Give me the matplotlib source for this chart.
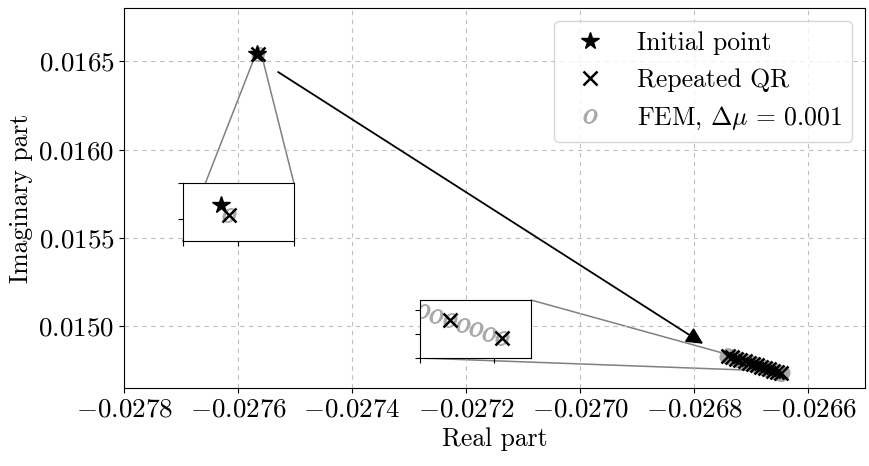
import matplotlib
matplotlib.use("Agg")
import matplotlib.pyplot as plt
from matplotlib.patches import ConnectionPatch, Rectangle

plt.rcParams['font.family'] = 'serif'
plt.rcParams['font.serif'] = ['cmr10']
plt.rcParams['mathtext.fontset'] = 'cm'
plt.rcParams['axes.formatter.use_mathtext'] = True
plt.rcParams['font.size'] = 18.5
plt.rcParams['xtick.labelsize'] = 19.5
plt.rcParams['ytick.labelsize'] = 19.5

# initial guess
init_re = [-0.0275666]
init_im = [0.0165439]

# repeated QR eigenvalues
qr_re = [-0.0275658,
         -0.0267399, -0.0267328, -0.0267257, -0.0267186, -0.0267115, -0.0267044, -0.0266973,
         -0.0266902, -0.0266831, -0.0266760, -0.0266689, -0.0266618, -0.0266547, -0.0266476]
qr_im = [0.0165412,
         0.0148332, 0.0148257, 0.0148182, 0.0148107, 0.0148032, 0.0147957, 0.0147882,
         0.0147807, 0.0147732, 0.0147657, 0.0147582, 0.0147507, 0.0147432, 0.0147357]

# FEM eigenvalues, dmu = 0.001
fem_re = [-0.0275658,
          -0.0267435, -0.0267417, -0.0267399, -0.0267381, -0.0267364, -0.0267346, -0.0267328,
          -0.0267310, -0.0267293, -0.0267275, -0.0267257, -0.0267239, -0.0267222, -0.0267204,
          -0.0267186, -0.0267168, -0.0267151, -0.0267133, -0.0267115, -0.0267097, -0.0267080,
          -0.0267062, -0.0267044, -0.0267026, -0.0267009, -0.0266991, -0.0266973, -0.0266955,
          -0.0266938, -0.0266920, -0.0266902, -0.0266884, -0.0266867, -0.0266849, -0.0266831,
          -0.0266813, -0.0266796, -0.0266778, -0.0266760, -0.0266742, -0.0266725, -0.0266707,
          -0.0266689, -0.0266636, -0.0266618, -0.0266600, -0.0266583, -0.0266565, -0.0266547,
          -0.0266529, -0.0266512, -0.0266494, -0.0266476, -0.0266458, -0.0266441]
fem_im = [0.0165412,
          0.0148370, 0.0148351, 0.0148332, 0.0148313, 0.0148295, 0.0148276, 0.0148257,
          0.0148238, 0.0148220, 0.0148201, 0.0148182, 0.0148163, 0.0148145, 0.0148126,
          0.0148107, 0.0148088, 0.0148070, 0.0148051, 0.0148032, 0.0148013, 0.0147995,
          0.0147976, 0.0147957, 0.0147938, 0.0147920, 0.0147901, 0.0147882, 0.0147863,
          0.0147845, 0.0147826, 0.0147807, 0.0147788, 0.0147770, 0.0147751, 0.0147732,
          0.0147713, 0.0147695, 0.0147676, 0.0147657, 0.0147638, 0.0147620, 0.0147601,
          0.0147582, 0.0147526, 0.0147507, 0.0147488, 0.0147470, 0.0147451, 0.0147432,
          0.0147413, 0.0147395, 0.0147376, 0.0147357, 0.0147338, 0.0147320]

# arrow start / end
arrow_from = (-0.02753, 0.01644)
arrow_to = (-0.026784, 0.014902)

# zoom windows
zoom1_x = (-0.02757, -0.02756)
zoom1_y = (0.016534, 0.01655)
zoom1_xt = [-0.02757, -0.027565, -0.02756]
zoom1_yt = [0.01654, 0.01655]
zoom2_x = (-0.02668, -0.026665)
zoom2_y = (0.01475, 0.014774)
zoom2_xt = [-0.02668, -0.02667]
zoom2_yt = [0.01475, 0.01476, 0.01477]

fem_col = '0.66'


def draw_points(a):
    a.plot(fem_re, fem_im, ls='none', marker='$o$', ms=10, mew=0.6, color=fem_col,
           label=r'FEM, $\Delta\mu\,=\,0.001$', zorder=2)
    a.plot(qr_re, qr_im, ls='none', marker='x', ms=10.5, mew=1.8, color='k',
           label='Repeated QR', zorder=3)
    a.plot(init_re, init_im, ls='none', marker='*', ms=13, color='k',
           label='Initial point', zorder=4)


fig, ax = plt.subplots(figsize=(8.7, 4.66), dpi=100)
fig.subplots_adjust(left=0.1428, right=0.9943, top=0.982, bottom=0.1667)

draw_points(ax)
ax.annotate('', xy=arrow_to, xytext=arrow_from,
            arrowprops=dict(arrowstyle='-|>', color='k', lw=1.3,
                            mutation_scale=25, shrinkA=0, shrinkB=0))

ax.set_xlim(-0.0278, -0.0265)
ax.set_ylim(0.01465, 0.0168)
ax.set_xticks([-0.0278, -0.0276, -0.0274, -0.0272, -0.0270, -0.0268, -0.0266])
ax.set_yticks([0.0150, 0.0155, 0.0160, 0.0165])
ax.ticklabel_format(useOffset=False)
ax.grid(True, color='0.75', lw=0.8, ls=(0, (4, 4)))
ax.set_xlabel('Real part')
ax.set_ylabel('Imaginary part')

h, l = ax.get_legend_handles_labels()
ax.legend(h[::-1], l[::-1], loc='upper right')


def add_zoom(bounds, xl, yl, xt, yt):
    axins = ax.inset_axes(bounds)
    draw_points(axins)
    axins.set_xlim(*xl)
    axins.set_ylim(*yl)
    axins.set_xticks(xt)
    axins.set_yticks(yt)
    axins.tick_params(labelbottom=False, labelleft=False)
    ax.add_patch(Rectangle((xl[0], yl[0]), xl[1] - xl[0], yl[1] - yl[0],
                           fill=False, ec='0.5', lw=1, zorder=1))
    for cx, cy in [(0, 0), (1, 1)]:
        cp = ConnectionPatch(xyA=(cx, cy), coordsA=axins.transAxes,
                             xyB=(xl[cx], yl[cy]), coordsB=ax.transData,
                             color='0.5', lw=1.1, zorder=1)
        ax.add_artist(cp)
    return axins


add_zoom([0.079, 0.3876, 0.150, 0.1526], zoom1_x, zoom1_y, zoom1_xt, zoom1_yt)
add_zoom([0.3993, 0.0797, 0.150, 0.1526], zoom2_x, zoom2_y, zoom2_xt, zoom2_yt)

fig.savefig('out.png', dpi=100)
